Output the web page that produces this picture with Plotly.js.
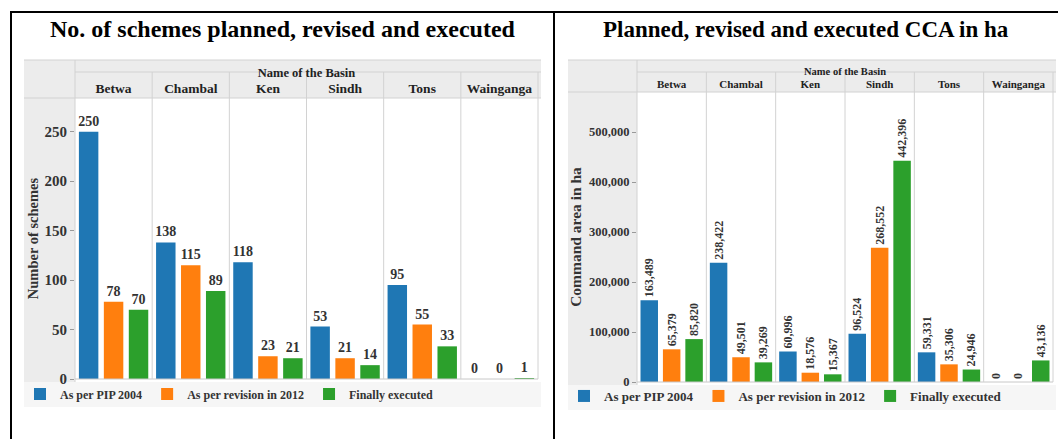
<!DOCTYPE html>
<html><head><meta charset="utf-8">
<script src="https://cdn.plot.ly/plotly-3.0.1.min.js"></script>
<style>html,body{margin:0;padding:0;background:#fff}#c{width:1058px;height:439px}</style>
</head><body><div id="c"></div>
<script>
const basins = ['Betwa','Chambal','Ken','Sindh','Tons','Wainganga'];
const seriesNames = ['As per PIP 2004','As per revision in 2012','Finally executed'];
const schemesPIP  = [250,138,118,53,95,0];
const schemesRev  = [78,115,23,21,55,0];
const schemesExec = [70,89,21,14,33,1];
const ccaPIP  = [163489,238422,60996,96524,59331,0];
const ccaRev  = [65379,49501,18576,268552,35306,0];
const ccaExec = [85820,39269,15367,442396,24946,43136];
const colors = ['#1f77b4','#ff7f0e','#2ca02c'];
const leftTitle = 'No. of schemes planned, revised and executed';
const rightTitle = 'Planned, revised and executed CCA in ha';

const W=1058,H=439;
const px=x=>x/W, py=y=>1-y/H;
const F='Liberation Serif';

const traces=[];
[schemesPIP,schemesRev,schemesExec].forEach((v,i)=>{
  traces.push({type:'bar',x:basins,y:v,name:seriesNames[i],marker:{color:colors[i]},
    xaxis:'x',yaxis:'y',legend:'legend',text:v.map(String),textposition:'outside',constraintext:'none',
    textfont:{family:F,size:14,color:'#333',weight:'bold'},cliponaxis:false,hoverinfo:'none'});
});
[ccaPIP,ccaRev,ccaExec].forEach((v,i)=>{
  traces.push({type:'bar',x:basins,y:v,name:seriesNames[i],marker:{color:colors[i]},
    xaxis:'x2',yaxis:'y2',legend:'legend2',texttemplate:'%{y:,}',textposition:'outside',textangle:-90,constraintext:'none',
    textfont:{family:F,size:12,color:'#333',weight:'bold'},cliponaxis:false,hoverinfo:'none'});
});

const L={x0:75,x1:538,top:98,bot:379,gx0:24,gx1:541,htop:60,hmid:72};
const R={x0:637,x1:1053,top:92,bot:382,gx0:568,gx1:1056,htop:60,hmid:72};

const shapes=[];
function panel(P,xref){
  const n=basins.length;
  shapes.push({type:'rect',xref:'paper',yref:'paper',x0:px(P.gx0),x1:px(P.gx1),y0:py(P.top),y1:py(P.htop),fillcolor:'#ececec',line:{width:0},layer:'below'});
  shapes.push({type:'rect',xref:'paper',yref:'paper',x0:px(P.gx0),x1:px(P.x0),y0:py(P.bot+3),y1:py(P.top),fillcolor:'#ececec',line:{width:0},layer:'below'});
  shapes.push({type:'rect',xref:'paper',yref:'paper',x0:px(P.gx0),x1:px(P.gx1),y0:py(P.bot+28),y1:py(P.bot+3),fillcolor:'#f6f6f6',line:{width:0},layer:'below'});
  const lc='#d2d2d2';
  shapes.push({type:'line',xref:'paper',yref:'paper',x0:px(P.gx0),x1:px(P.gx1),y0:py(P.htop),y1:py(P.htop),line:{color:lc,width:1}});
  shapes.push({type:'line',xref:'paper',yref:'paper',x0:px(P.x0),x1:px(P.gx1),y0:py(P.hmid),y1:py(P.hmid),line:{color:lc,width:1}});
  shapes.push({type:'line',xref:'paper',yref:'paper',x0:px(P.gx0),x1:px(P.gx1),y0:py(P.top),y1:py(P.top),line:{color:lc,width:1}});
  shapes.push({type:'line',xref:'paper',yref:'paper',x0:px(P.x0),x1:px(P.x0),y0:py(P.bot+3),y1:py(P.htop),line:{color:lc,width:1}});
  shapes.push({type:'line',xref:'paper',yref:'paper',x0:px(P.x1),x1:px(P.x1),y0:py(P.bot),y1:py(P.hmid),line:{color:lc,width:1}});
  shapes.push({type:'line',xref:'paper',yref:'paper',x0:px(P.x0),x1:px(P.x1),y0:py(P.bot),y1:py(P.bot),line:{color:'#c8c8c8',width:1}});
  for(let i=1;i<n;i++){
    shapes.push({type:'line',xref:xref,yref:'paper',x0:i-0.5,x1:i-0.5,y0:py(P.bot),y1:py(P.hmid),line:{color:lc,width:1}});
  }
}
panel(L,'x');panel(R,'x2');
shapes.push({type:'line',xref:'paper',yref:'paper',x0:px(10),x1:px(1058),y0:py(12),y1:py(12),line:{color:'#000',width:2}});
shapes.push({type:'line',xref:'paper',yref:'paper',x0:px(11),x1:px(11),y0:0,y1:py(12),line:{color:'#000',width:2}});
shapes.push({type:'line',xref:'paper',yref:'paper',x0:px(554),x1:px(554),y0:0,y1:py(12),line:{color:'#000',width:2}});

const layout={
  width:W,height:H,margin:{l:0,r:0,t:0,b:0},paper_bgcolor:'#fff',plot_bgcolor:'rgba(0,0,0,0)',
  barmode:'group',bargap:0.03,bargroupgap:0.22,showlegend:true,
  font:{family:F},
  xaxis:{domain:[px(L.x0),px(L.x1)],anchor:'y',side:'top',type:'category',showgrid:false,zeroline:false,showline:false,
    ticks:'',tickfont:{family:F,size:13.5,color:'#222',weight:'bold'},ticklabelstandoff:1,
    title:{text:'Name of the Basin',font:{family:F,size:12.5,color:'#222',weight:'bold'},standoff:0}},
  yaxis:{domain:[py(L.bot),py(L.top)],anchor:'x',range:[0,284],tickvals:[0,50,100,150,200,250],showgrid:false,zeroline:false,
    ticks:'outside',ticklen:4,tickcolor:'#999',tickfont:{family:F,size:15,color:'#333',weight:'bold'},
    title:{text:'Number of schemes',font:{family:F,size:14.5,color:'#333',weight:'bold'},standoff:2}},
  xaxis2:{domain:[px(R.x0),px(R.x1)],anchor:'y2',side:'top',type:'category',showgrid:false,zeroline:false,showline:false,
    ticks:'',tickfont:{family:F,size:11,color:'#222',weight:'bold'},ticklabelstandoff:1,
    title:{text:'Name of the Basin',font:{family:F,size:10.5,color:'#222',weight:'bold'},standoff:0}},
  yaxis2:{domain:[py(R.bot),py(R.top)],anchor:'x2',range:[0,580000],tickvals:[0,100000,200000,300000,400000,500000],tickformat:',',
    showgrid:false,zeroline:false,ticks:'outside',ticklen:4,tickcolor:'#999',tickfont:{family:F,size:12.5,color:'#333',weight:'bold'},
    title:{text:'Command area in ha',font:{family:F,size:15.5,color:'#333',weight:'bold'},standoff:3}},
  legend:{orientation:'h',x:px(20),y:py(394),xanchor:'left',yanchor:'middle',bgcolor:'rgba(0,0,0,0)',
    font:{family:F,size:12,color:'#333',weight:'bold'},itemwidth:30,tracegroupgap:0},
  legend2:{orientation:'h',x:px(564),y:py(396),xanchor:'left',yanchor:'middle',bgcolor:'rgba(0,0,0,0)',
    font:{family:F,size:13,color:'#333',weight:'bold'},itemwidth:30,tracegroupgap:0},
  annotations:[
    {text:'<b>'+leftTitle+'</b>',xref:'paper',yref:'paper',x:px(283),y:py(29),showarrow:false,font:{family:F,size:24,color:'#000'},xanchor:'center',yanchor:'middle'},
    {text:'<b>'+rightTitle+'</b>',xref:'paper',yref:'paper',x:px(806),y:py(29),showarrow:false,font:{family:F,size:23,color:'#000'},xanchor:'center',yanchor:'middle'}
  ],
  shapes:shapes
};
Plotly.newPlot('c',traces,layout,{displayModeBar:false,staticPlot:true});
</script></body></html>
